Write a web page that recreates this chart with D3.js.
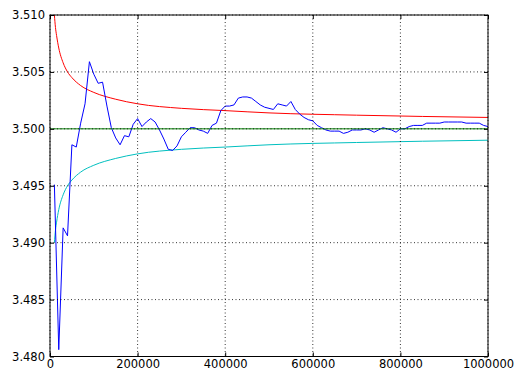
<!DOCTYPE html>
<html>
<head>
<meta charset="utf-8">
<script src="https://cdn.jsdelivr.net/npm/d3@7"></script>
<style>
  body { margin: 0; background: #fff; }
  text { font-family: "DejaVu Sans", sans-serif; font-size: 11.5px; fill: #000; }
</style>
</head>
<body>
<div id="chart"></div>
<script>
// running mean, one point every 10000 samples
var steps = d3.range(1, 101).map(function(k){ return k * 10000; });
var meanValues = [
  3.4951, 3.4806, 3.4913, 3.4906, 3.4986, 3.4984, 3.5005, 3.5022, 3.5059, 3.5048,
  3.5040, 3.5041, 3.5020, 3.5001, 3.4992, 3.4986, 3.4994, 3.4993, 3.5004, 3.5009,
  3.5002, 3.5006, 3.5009, 3.5006, 3.4999, 3.4991, 3.4982, 3.4981, 3.4985, 3.4993,
  3.4997, 3.5001, 3.5001, 3.4999, 3.4998, 3.4996, 3.5003, 3.5005, 3.5016, 3.5020,
  3.5020, 3.5021, 3.5027, 3.5028, 3.5028, 3.5027, 3.5024, 3.5021, 3.5019, 3.5018,
  3.5017, 3.5022, 3.5021, 3.5020, 3.5024, 3.5017, 3.5013, 3.5010, 3.5008, 3.5007,
  3.5003, 3.5001, 3.4999, 3.4998, 3.4998, 3.4998, 3.4996, 3.4997, 3.4999, 3.4999,
  3.4999, 3.5000, 3.4999, 3.4997, 3.4999, 3.5001, 3.5000, 3.4999, 3.4997, 3.5000,
  3.5000, 3.5002, 3.5003, 3.5003, 3.5003, 3.5005, 3.5005, 3.5005, 3.5005, 3.5006,
  3.5006, 3.5006, 3.5006, 3.5006, 3.5005, 3.5005, 3.5005, 3.5005, 3.5003, 3.5002
];

// envelope curves
var boundSteps = [10000, 12500, 15000, 20000, 30000, 40000, 50000, 70000, 100000,
                  150000, 200000, 300000, 400000, 500000, 700000, 1000000];
var upperValues = [3.5100, 3.5089, 3.5082, 3.5071, 3.5058, 3.5050, 3.5045, 3.5038, 3.5032,
                   3.5026, 3.5022, 3.5018, 3.5016, 3.5014, 3.5012, 3.5010];
var lowerValues = [3.4900, 3.4911, 3.4918, 3.4929, 3.4942, 3.4950, 3.4955, 3.4962, 3.4968,
                   3.4974, 3.4978, 3.4982, 3.4984, 3.4986, 3.4988, 3.4990];

var expectedSteps = [0, 1000000];
var expectedValues = [3.5, 3.5];

var xTicks = [0, 200000, 400000, 600000, 800000, 1000000];
var yTicks = [3.480, 3.485, 3.490, 3.495, 3.500, 3.505, 3.510];

var W = 516, H = 372;
var pLeft = 50, pRight = 488, pTop = 15, pBottom = 356.5;

var x = d3.scaleLinear().domain([0, 1000000]).range([pLeft, pRight]);
var y = d3.scaleLinear().domain([3.480, 3.510]).range([pBottom, pTop]);

var svg = d3.select("#chart").append("svg")
    .attr("width", W).attr("height", H);

svg.append("rect").attr("width", W).attr("height", H).attr("fill", "#fff");

svg.append("clipPath").attr("id", "plotclip")
  .append("rect").attr("x", pLeft).attr("y", pTop)
  .attr("width", pRight - pLeft).attr("height", pBottom - pTop);

var plot = svg.append("g").attr("clip-path", "url(#plotclip)");

function pts(xs, ys){ return xs.map(function(d, i){ return [d, ys[i]]; }); }

var line = d3.line()
    .x(function(d){ return x(d[0]); })
    .y(function(d){ return y(d[1]); });
var smooth = d3.line()
    .x(function(d){ return x(d[0]); })
    .y(function(d){ return y(d[1]); })
    .curve(d3.curveMonotoneX);

plot.append("path").attr("d", smooth(pts(boundSteps, upperValues)))
    .attr("fill", "none").attr("stroke", "#ff0000").attr("stroke-width", 1);
plot.append("path").attr("d", smooth(pts(boundSteps, lowerValues)))
    .attr("fill", "none").attr("stroke", "#00bfbf").attr("stroke-width", 1);
plot.append("path").attr("d", line(pts(steps, meanValues)))
    .attr("fill", "none").attr("stroke", "#0000ff").attr("stroke-width", 1);
plot.append("path").attr("d", line(pts(expectedSteps, expectedValues)))
    .attr("fill", "none").attr("stroke", "#008000").attr("stroke-width", 1);

// dotted grid on top of the lines
var grid = svg.append("g").attr("stroke", "#000").attr("stroke-width", 0.8)
    .attr("stroke-dasharray", "1,2.5").attr("fill", "none");
xTicks.forEach(function(t){
  grid.append("line").attr("x1", x(t)).attr("x2", x(t)).attr("y1", pTop).attr("y2", pBottom);
});
yTicks.forEach(function(t){
  grid.append("line").attr("x1", pLeft).attr("x2", pRight).attr("y1", y(t)).attr("y2", y(t));
});

// axes, ticks pointing inward
var ax = svg.append("g").attr("transform", "translate(0," + pBottom + ")")
    .call(d3.axisBottom(x).tickValues(xTicks).tickSize(-4).tickPadding(3).tickFormat(d3.format("d")));
var ay = svg.append("g").attr("transform", "translate(" + pLeft + ",0)")
    .call(d3.axisLeft(y).tickValues(yTicks).tickSize(-4).tickPadding(5).tickFormat(d3.format(".3f")));
var at = svg.append("g").attr("transform", "translate(0," + pTop + ")")
    .call(d3.axisTop(x).tickValues(xTicks).tickSize(-4).tickFormat(""));
var ar = svg.append("g").attr("transform", "translate(" + pRight + ",0)")
    .call(d3.axisRight(y).tickValues(yTicks).tickSize(-4).tickFormat(""));

[ax, ay, at, ar].forEach(function(g){
  g.select(".domain").remove();
  g.selectAll(".tick line").attr("stroke", "#000");
  g.selectAll("text").attr("font-family", "DejaVu Sans").attr("font-size", "11.5px").attr("fill", "#000");
});

svg.append("rect").attr("x", pLeft).attr("y", pTop)
    .attr("width", pRight - pLeft).attr("height", pBottom - pTop)
    .attr("fill", "none").attr("stroke", "#000").attr("stroke-width", 1);
</script>
</body>
</html>
